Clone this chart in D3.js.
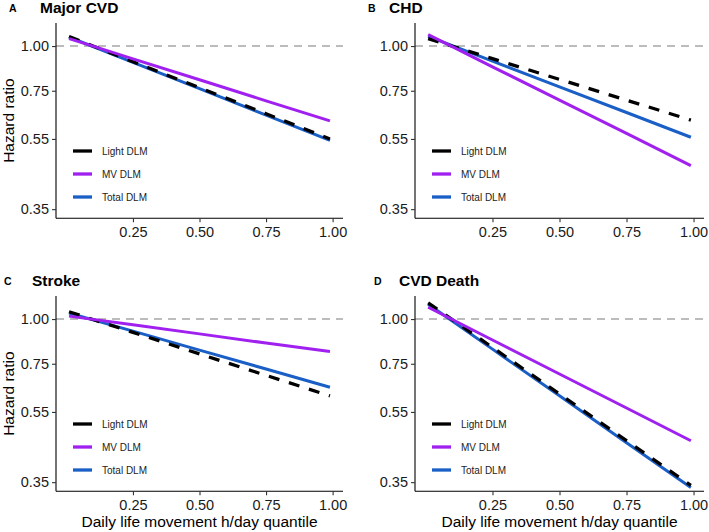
<!DOCTYPE html>
<html><head><meta charset="utf-8">
<script src="https://cdn.jsdelivr.net/npm/d3@7"></script>
<style>
html,body{margin:0;padding:0;background:#fff;}
svg{display:block;font-family:"Liberation Sans",Arial,sans-serif;}
</style></head>
<body><svg id="chart" width="709" height="532"></svg>
<script>
// ---- data ----
const quantiles = [0.01, 0.10, 0.25, 0.50, 0.75, 0.99];
const seriesNames = ["Light DLM", "MV DLM", "Total DLM"];
const panelTags = ["A", "B", "C", "D"];
const panelTitles = ["Major CVD", "CHD", "Stroke", "CVD Death"];
const yTicks = [0.35, 0.55, 0.75, 1.00];
const xTicks = [0.25, 0.50, 0.75, 1.00];
// hazard ratios per panel, per series (values at the quantiles above)
const majorLight = [1.063, 1.000, 0.904, 0.765, 0.647, 0.550];
const majorMV    = [1.049, 1.000, 0.921, 0.805, 0.703, 0.618];
const majorTotal = [1.060, 0.997, 0.900, 0.760, 0.641, 0.545];
const chdLight   = [1.049, 0.999, 0.922, 0.807, 0.706, 0.621];
const chdMV      = [1.076, 0.996, 0.875, 0.706, 0.570, 0.463];
const chdTotal   = [1.064, 1.003, 0.908, 0.769, 0.652, 0.556];
const strokeLight= [1.048, 0.997, 0.918, 0.799, 0.696, 0.610];
const strokeMV   = [1.019, 0.998, 0.964, 0.909, 0.857, 0.811];
const strokeTotal= [1.040, 0.995, 0.925, 0.819, 0.725, 0.645];
const deathLight = [1.110, 0.997, 0.833, 0.617, 0.457, 0.343];
const deathMV    = [1.079, 0.997, 0.874, 0.702, 0.564, 0.457];
const deathTotal = [1.100, 0.987, 0.824, 0.610, 0.451, 0.338];
const panelData = [
  [majorLight, majorMV, majorTotal],
  [chdLight, chdMV, chdTotal],
  [strokeLight, strokeMV, strokeTotal],
  [deathLight, deathMV, deathTotal]
];

// ---- styles/layout ----
const colors = {"Light DLM":"#000000","MV DLM":"#a020f0","Total DLM":"#1a5fc6"};
const drawOrder = ["Total DLM","Light DLM","MV DLM"];
const panels = [
  {l:56,  r:343, t:23,  b:218.3, tagX:9,   titleX:40,  showX:false},
  {l:415, r:704, t:23,  b:218.3, tagX:368, titleX:389, showX:false},
  {l:56,  r:343, t:296, b:491.3, tagX:4,   titleX:32,  showX:true},
  {l:415, r:704, t:296, b:491.3, tagX:374, titleX:399, showX:true}
];
const svg = d3.select("#chart");

panels.forEach((p, i) => {
  const g = svg.append("g");
  const x = d3.scaleLinear().domain([-0.039, 1.039]).range([p.l, p.r]);
  const y = d3.scaleLog().domain([0.330, 1.160]).range([p.b, p.t]);

  // reference line at 1
  g.append("line")
    .attr("x1", p.l).attr("x2", p.r)
    .attr("y1", y(1)).attr("y2", y(1))
    .attr("stroke", "#a6a6a6").attr("stroke-width", 1.6)
    .attr("stroke-dasharray", "8,6");

  // series lines
  const line = d3.line().x((d,k) => x(quantiles[k])).y(d => y(d));
  drawOrder.forEach(name => {
    const si = seriesNames.indexOf(name);
    g.append("path")
      .datum(panelData[i][si])
      .attr("d", line)
      .attr("fill", "none")
      .attr("stroke", colors[name])
      .attr("stroke-width", name === "Light DLM" ? 3.3 : 3)
      .attr("stroke-dasharray", name === "Light DLM" ? "11,10" : null);
  });

  // axes
  const xAxis = d3.axisBottom(x).tickValues(xTicks).tickFormat(d3.format(".2f"))
    .tickSize(4).tickSizeOuter(0).tickPadding(4);
  const yAxis = d3.axisLeft(y).tickValues(yTicks).tickFormat(d3.format(".2f"))
    .tickSize(4).tickSizeOuter(0).tickPadding(3);
  const xg = g.append("g").attr("transform", `translate(0,${p.b})`).call(xAxis);
  const yg = g.append("g").attr("transform", `translate(${p.l},0)`).call(yAxis);
  [xg, yg].forEach(ax => {
    ax.select(".domain").attr("stroke", "#000").attr("stroke-width", 1.1);
    ax.selectAll(".tick line").attr("stroke", "#333").attr("stroke-width", 1.1);
    ax.selectAll(".tick text").attr("fill", "#1a1a1a")
      .style("font-size", "14.5px").style("font-family", "'Liberation Sans',Arial,sans-serif");
  });
  xg.select(".domain").attr("d", `M${p.l},0H${p.r}`);
  yg.select(".domain").attr("d", `M0,${p.t}V${p.b}`);

  // titles
  g.append("text").attr("x", p.tagX).attr("y", p.t - 11.5)
    .style("font-size", "10.5px").style("font-weight", "bold").text(panelTags[i]);
  g.append("text").attr("x", p.titleX).attr("y", p.t - 10.5)
    .style("font-size", "15.5px").style("font-weight", "bold").text(panelTitles[i]);

  // y title on left panels
  if (i % 2 === 0) {
    g.append("text")
      .attr("transform", `translate(13.5,${(p.t + p.b) / 2}) rotate(-90)`)
      .attr("text-anchor", "middle")
      .style("font-size", "15.5px").text("Hazard ratio");
  }
  if (p.showX) {
    g.append("text")
      .attr("x", (p.l + p.r) / 2).attr("y", p.b + 35.5)
      .attr("text-anchor", "middle")
      .style("font-size", "15.5px").text("Daily life movement h/day quantile");
  }

  // legend
  const lg = g.append("g").attr("transform", `translate(${p.l + 17},${p.t + 128})`);
  seriesNames.forEach((name, k) => {
    const row = lg.append("g").attr("transform", `translate(0,${k * 23})`);
    row.append("line").attr("x1", 0).attr("x2", 19).attr("y1", 0).attr("y2", 0)
      .attr("stroke", colors[name]).attr("stroke-width", 3.3);
    row.append("text").attr("x", 29).attr("y", 0).attr("dy", "0.35em")
      .style("font-size", "10px").attr("fill", "#222").text(name);
  });
});
</script></body></html>
